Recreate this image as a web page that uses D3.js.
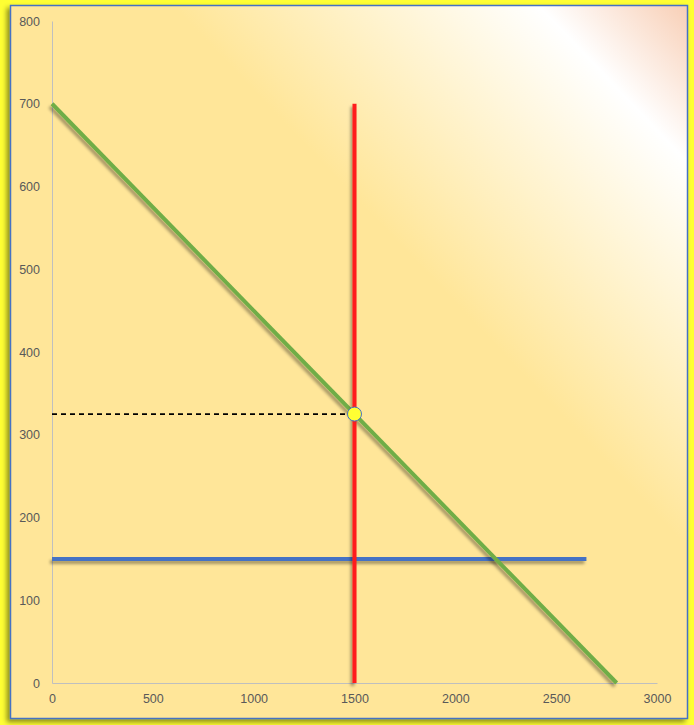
<!DOCTYPE html>
<html><head><meta charset="utf-8">
<script src="https://cdn.jsdelivr.net/npm/d3@7"></script>
<style>html,body{margin:0;padding:0;background:#FFFF33;}svg{display:block;}</style>
</head><body>
<script>
const xTicks = [0, 500, 1000, 1500, 2000, 2500, 3000];
const yTicks = [0, 100, 200, 300, 400, 500, 600, 700, 800];
const demand = [{x: 0, y: 700}, {x: 2800, y: 0}];       // green
const vertical = [{x: 1500, y: 0}, {x: 1500, y: 700}];  // red
const horizontal = [{x: 0, y: 150}, {x: 2650, y: 150}]; // blue
const dashed = [{x: 0, y: 325}, {x: 1500, y: 325}];
const point = [{x: 1500, y: 325}];

const W = 694, H = 725;
const svg = d3.select("body").append("svg").attr("width", W).attr("height", H);
const defs = svg.append("defs");

const grad = defs.append("linearGradient").attr("id", "bg")
  .attr("x1", 0).attr("y1", 1).attr("x2", 1).attr("y2", 0);
[[0, "#FFE699"], [0.62, "#FFE699"], [0.89, "#FFFFFF"], [1, "#F8CFB6"]].forEach(([o, c]) =>
  grad.append("stop").attr("offset", o).attr("stop-color", c));

const boxSh = defs.append("filter").attr("id", "boxsh").attr("filterUnits", "userSpaceOnUse")
  .attr("x", 0).attr("y", 0).attr("width", W).attr("height", H);
boxSh.append("feDropShadow").attr("dx", -3).attr("dy", 3).attr("stdDeviation", 2.5).attr("flood-color", "#000").attr("flood-opacity", 0.45);

const lineSh = defs.append("filter").attr("id", "linesh").attr("filterUnits", "userSpaceOnUse")
  .attr("x", 0).attr("y", 0).attr("width", W).attr("height", H);
lineSh.append("feDropShadow").attr("dx", -2).attr("dy", 3).attr("stdDeviation", 1.8).attr("flood-color", "#000").attr("flood-opacity", 0.35);

svg.append("rect").attr("x", 10.5).attr("y", 5.5).attr("width", 677).attr("height", 713)
  .attr("fill", "url(#bg)").attr("stroke", "#4472C4").attr("stroke-width", 1.5)
  .attr("filter", "url(#boxsh)");

const x = d3.scaleLinear().domain([0, 3000]).range([52, 657]);
const y = d3.scaleLinear().domain([0, 800]).range([683, 21]);

const font = "'Liberation Sans', Arial, sans-serif";

const xAxis = svg.append("g").attr("transform", `translate(0,${y(0)})`)
  .call(d3.axisBottom(x).tickValues(xTicks).tickSize(0).tickPadding(11).tickFormat(d3.format("d")));
const yAxis = svg.append("g").attr("transform", `translate(${x(0)},0)`)
  .call(d3.axisLeft(y).tickValues(yTicks).tickSize(0).tickPadding(12).tickFormat(d3.format("d")));
[xAxis, yAxis].forEach(g => {
  g.select(".domain").attr("stroke", "#BFBFBF").attr("stroke-width", 1);
  g.selectAll("text").attr("fill", "#595959").style("font-family", font).style("font-size", "12.5px");
});

const line = d3.line().x(d => x(d.x)).y(d => y(d.y));

svg.append("path").datum(horizontal).attr("d", line).attr("fill", "none")
  .attr("stroke", "#4472C4").attr("stroke-width", 4).attr("filter", "url(#linesh)");
svg.append("path").datum(demand).attr("d", line).attr("fill", "none")
  .attr("stroke", "#70AD47").attr("stroke-width", 4).attr("filter", "url(#linesh)");
svg.append("path").datum(vertical).attr("d", line).attr("fill", "none")
  .attr("stroke", "#FF1A1A").attr("stroke-width", 4).attr("filter", "url(#linesh)");
svg.append("path").datum(dashed).attr("d", line).attr("fill", "none")
  .attr("stroke", "#000").attr("stroke-width", 1.8).attr("stroke-dasharray", "5,4");

svg.selectAll("circle.pt").data(point).join("circle").attr("class", "pt")
  .attr("cx", d => x(d.x)).attr("cy", d => y(d.y)).attr("r", 7)
  .attr("fill", "#FFFF33").attr("stroke", "#4472C4").attr("stroke-width", 1);
</script>
</body></html>
